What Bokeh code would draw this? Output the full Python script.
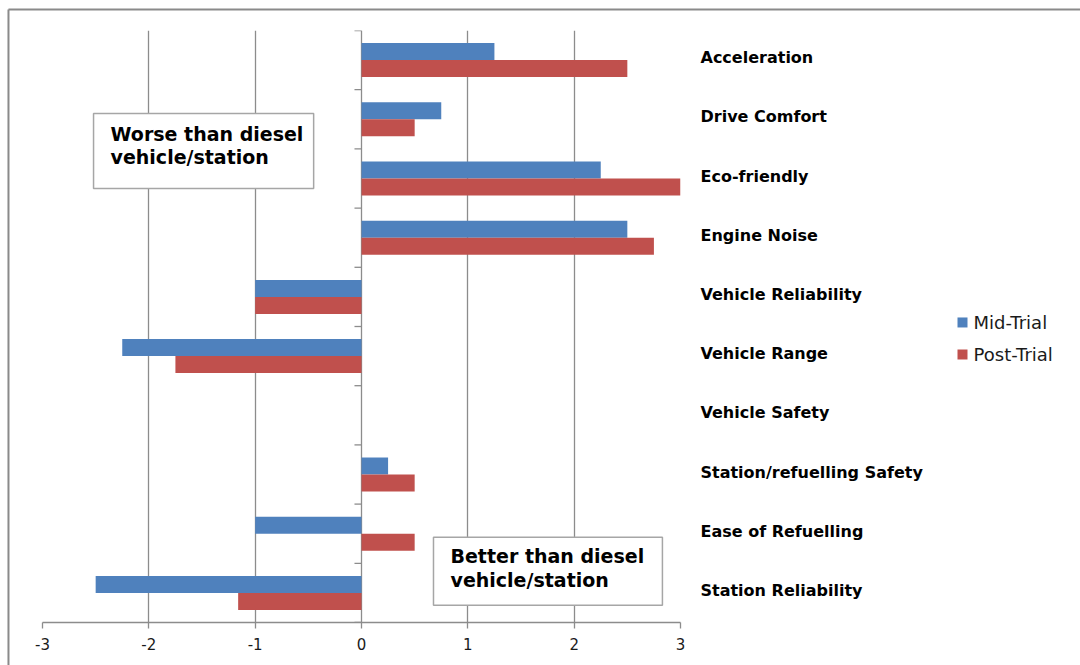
from bokeh.plotting import figure
from bokeh.models import Range1d, FixedTicker
from bokeh.embed import file_html
from bokeh.resources import INLINE
from bokeh.core.properties import value

# ---- data -------------------------------------------------------------
categories = [
    "Acceleration", "Drive Comfort", "Eco-friendly", "Engine Noise",
    "Vehicle Reliability", "Vehicle Range", "Vehicle Safety",
    "Station/refuelling Safety", "Ease of Refuelling", "Station Reliability",
]
mid_trial = [1.25, 0.75, 2.25, 2.5, -1.0, -2.25, 0.0, 0.25, -1.0, -2.5]
post_trial = [2.5, 0.5, 3.0, 2.75, -1.0, -1.75, 0.0, 0.5, 0.5, -1.16]
x_ticks = [-3, -2, -1, 0, 1, 2, 3]
series_names = ["Mid-Trial", "Post-Trial"]

# ---- styling ----------------------------------------------------------
FONT = "DejaVu Sans"
BLUE = "#4F81BD"
RED = "#C0504D"
GRID = "#8c8c8c"
BAR_H = 0.287

n = len(categories)
centers = [i + 0.5 for i in range(n)]
# category labels sit slightly above the middle of each band
label_pos = [c - 0.04 for c in centers]

p = figure(
    width=1080, height=665, output_backend="svg", toolbar_location=None,
    x_range=Range1d(-3, 3), y_range=Range1d(n, 0),
    x_axis_location="below", y_axis_location="right",
    min_border_left=42, min_border_right=400,
    min_border_top=30, min_border_bottom=43,
)
p.outline_line_color = None
p.background_fill_color = "white"
p.border_fill_color = "white"

# vertical grid only
p.ygrid.visible = False
p.xgrid.ticker = FixedTicker(ticks=x_ticks)
p.xgrid.grid_line_color = GRID
p.xgrid.grid_line_width = 1.3

# value axis (bottom)
xa = p.xaxis[0]
xa.ticker = FixedTicker(ticks=x_ticks)
xa.major_label_overrides = {t: str(t) for t in x_ticks}
xa.axis_line_color = GRID
xa.axis_line_width = 1.3
xa.major_tick_line_color = GRID
xa.major_tick_line_width = 1.3
xa.major_tick_out = 6
xa.major_tick_in = 0
xa.minor_tick_line_color = None
xa.major_label_standoff = 9
xa.major_label_text_font = FONT
xa.major_label_text_font_size = "15px"
xa.major_label_text_color = "#1a1a1a"

# category labels on the right side
ya = p.yaxis[0]
ya.ticker = FixedTicker(ticks=label_pos)
ya.major_label_overrides = {c: name for c, name in zip(label_pos, categories)}
ya.axis_line_color = None
ya.major_tick_line_color = None
ya.minor_tick_line_color = None
ya.major_label_standoff = 14
ya.major_label_text_font = FONT
ya.major_label_text_font_style = "bold"
ya.major_label_text_font_size = "16px"
ya.major_label_text_color = "#000000"

# category axis tick marks at x = 0 (between categories)
bounds = list(range(n + 1))
p.segment(x0=[0] * len(bounds), x1=[-0.066] * len(bounds), y0=bounds, y1=bounds,
          line_color=GRID, line_width=1.3)

# bars
r_mid = p.hbar(y=[c - BAR_H / 2 for c in centers], left=0, right=mid_trial,
               height=BAR_H, fill_color=BLUE, line_color=None)
r_post = p.hbar(y=[c + BAR_H / 2 for c in centers], left=0, right=post_trial,
                height=BAR_H, fill_color=RED, line_color=None)

# annotation boxes
p.quad(left=[-2.52, 0.677], right=[-0.45, 2.83], top=[1.40, 8.56], bottom=[2.67, 9.71],
       fill_color="white", line_color="#a6a6a6", line_width=1.5)
p.text(x=[-2.36, -2.36, 0.837, 0.837], y=[1.74, 2.145, 8.885, 9.29],
       text=["Worse than diesel", "vehicle/station", "Better than diesel", "vehicle/station"],
       text_font=value(FONT), text_font_style="bold", text_font_size="19px",
       text_baseline="middle", text_align="left", text_color="#000000")

# outer chart-area border (top and left edges)
p.segment(x0=[-3.32, -3.32], x1=[6.8, -3.32], y0=[-0.355, -0.355], y1=[-0.355, 10.8],
          line_color="#8a8a8a", line_width=2, level="overlay")

# legend, drawn to the right of the category labels
legend_y = [4.932, 5.473]
p.rect(x=[5.652, 5.652], y=legend_y, width=10, height=10,
       width_units="screen", height_units="screen",
       fill_color=[BLUE, RED], line_color=None, level="overlay")
p.text(x=[5.756, 5.756], y=legend_y, text=series_names,
       text_font=value(FONT), text_font_size="18px", text_baseline="middle",
       text_align="left", text_color="#1a1a1a", level="overlay")

open("out.html", "w").write(file_html(p, INLINE))
